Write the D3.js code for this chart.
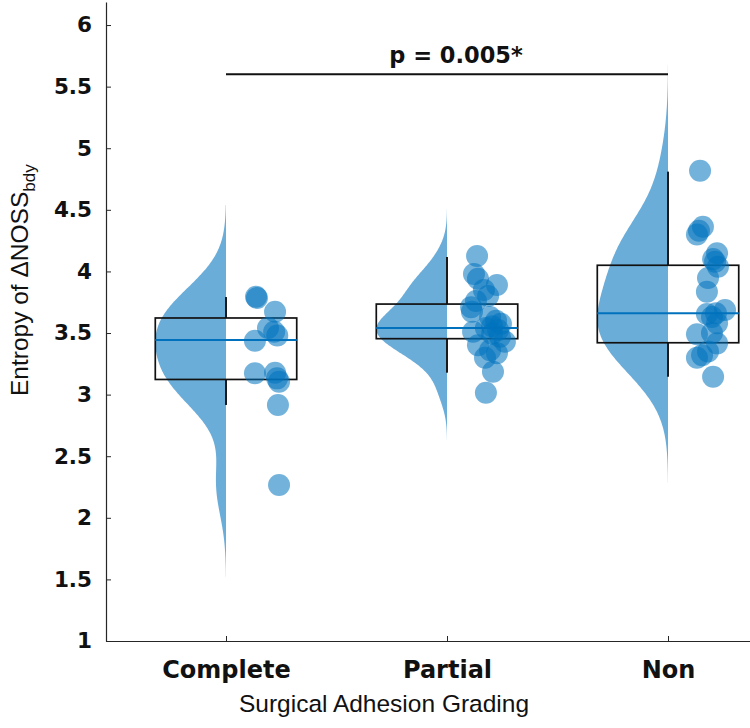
<!DOCTYPE html>
<html><head><meta charset="utf-8">
<script src="https://cdn.jsdelivr.net/npm/d3@7"></script>
<style>body{margin:0;background:#fff} svg{display:block}</style>
</head><body><svg id="chart" width="750" height="728"></svg>
<script>
// ---------------- data ----------------
const categories = ["Complete", "Partial", "Non"];

const completeValues = [3.795, 3.785, 3.673, 3.54, 3.51, 3.48, 3.437, 3.173, 3.178, 3.132, 3.105, 2.916, 2.266];
const completeJitter = [0.136, 0.140, 0.222, 0.190, 0.218, 0.232, 0.131, 0.131, 0.222, 0.231, 0.240, 0.235, 0.240];

const partialValues = [4.125, 3.979, 3.94, 3.89, 3.85, 3.80, 3.76, 3.71, 3.673, 3.63, 3.60, 3.575, 3.555, 3.54, 3.525, 3.51, 3.495, 3.47, 3.43, 3.40, 3.36, 3.335, 3.30, 3.186, 3.015];
const partialJitter = [0.136, 0.122, 0.140, 0.226, 0.167, 0.186, 0.131, 0.109, 0.113, 0.195, 0.222, 0.244, 0.204, 0.176, 0.231, 0.118, 0.204, 0.240, 0.262, 0.140, 0.195, 0.226, 0.172, 0.208, 0.176];

const nonValues = [4.817, 4.363, 4.33, 4.30, 4.147, 4.10, 4.079, 4.038, 3.946, 3.835, 3.655, 3.687, 3.66, 3.63, 3.579, 3.50, 3.49, 3.416, 3.35, 3.32, 3.30, 3.145];
const nonJitter = [0.145, 0.158, 0.140, 0.131, 0.222, 0.204, 0.213, 0.226, 0.181, 0.176, 0.176, 0.258, 0.217, 0.199, 0.222, 0.199, 0.131, 0.222, 0.181, 0.154, 0.131, 0.204];

// box plot statistics
const boxQ1 = [3.123, 3.454, 3.421];
const boxMedian = [3.443, 3.541, 3.660];
const boxQ3 = [3.622, 3.735, 4.050];
const whiskerLow = [2.916, 3.178, 3.145];
const whiskerHigh = [3.792, 4.117, 4.810];

const yTicks = [1, 1.5, 2, 2.5, 3, 3.5, 4, 4.5, 5, 5.5, 6];
const yTickLabels = ["1", "1.5", "2", "2.5", "3", "3.5", "4", "4.5", "5", "5.5", "6"];

const sigFrom = 1, sigTo = 3, sigLevel = 5.6;
const sigLabel = "p = 0.005*";

// ---------------- setup ----------------
const groups = [
  {values: completeValues, jitter: completeJitter},
  {values: partialValues, jitter: partialJitter},
  {values: nonValues, jitter: nonJitter}
];
const BLUE = "#0072BD";
const svg = d3.select("#chart");
const x = d3.scaleLinear().domain([0.457, 3.371]).range([106, 750]);
const y = d3.scaleLinear().domain([1, 6.187]).range([641, 2]);

// KDE (Gaussian, MATLAB ksdensity-like bandwidth)
function kde(vals) {
  const n = vals.length;
  const med = d3.median(vals);
  const mad = d3.median(vals.map(v => Math.abs(v - med)));
  const sig = mad / 0.6745;
  const h = sig * Math.pow(4 / (3 * n), 0.2);
  const lo = d3.min(vals) - 3 * h, hi = d3.max(vals) + 3 * h;
  const pts = d3.range(0, 201).map(i => lo + (hi - lo) * i / 200);
  return pts.map(t => [t, d3.mean(vals, v => Math.exp(-0.5 * ((t - v) / h) ** 2)) / (h * Math.sqrt(2 * Math.PI))]);
}
const violinWidth = 0.32; // category units, each violin scaled to its own peak

// violins
groups.forEach((g, i) => {
  const c = i + 1;
  const d = kde(g.values);
  const m = d3.max(d, p => p[1]);
  const area = d3.area()
    .y(p => y(p[0]))
    .x0(() => x(c))
    .x1(p => x(c - p[1] / m * violinWidth))
    .curve(d3.curveBasis);
  svg.append("path").attr("d", area(d))
    .attr("fill", BLUE).attr("fill-opacity", 0.58).attr("stroke", "none");
});

// boxes
const boxHalf = 0.32;
categories.forEach((cat, i) => {
  const c = i + 1;
  const g = svg.append("g");
  g.append("line").attr("x1", x(c)).attr("x2", x(c))
    .attr("y1", y(boxQ3[i])).attr("y2", y(whiskerHigh[i]))
    .attr("stroke", "#1a1a1a").attr("stroke-width", 2);
  g.append("line").attr("x1", x(c)).attr("x2", x(c))
    .attr("y1", y(boxQ1[i])).attr("y2", y(whiskerLow[i]))
    .attr("stroke", "#1a1a1a").attr("stroke-width", 2);
  g.append("rect").attr("x", x(c - boxHalf)).attr("y", y(boxQ3[i]))
    .attr("width", x(c + boxHalf) - x(c - boxHalf))
    .attr("height", y(boxQ1[i]) - y(boxQ3[i]))
    .attr("fill", "none").attr("stroke", "#111").attr("stroke-width", 1.7);
  g.append("line").attr("x1", x(c - boxHalf)).attr("x2", x(c + boxHalf))
    .attr("y1", y(boxMedian[i])).attr("y2", y(boxMedian[i]))
    .attr("stroke", BLUE).attr("stroke-width", 2);
});

// points
groups.forEach((g, i) => {
  const c = i + 1;
  svg.append("g").selectAll("circle").data(g.values).join("circle")
    .attr("cx", (v, j) => x(c + g.jitter[j]))
    .attr("cy", v => y(v))
    .attr("r", 11)
    .attr("fill", BLUE).attr("fill-opacity", 0.55);
});

// significance bar
svg.append("line").attr("x1", x(sigFrom)).attr("x2", x(sigTo))
  .attr("y1", y(sigLevel)).attr("y2", y(sigLevel))
  .attr("stroke", "#111").attr("stroke-width", 2);
svg.append("text").attr("x", x((sigFrom + sigTo) / 2) + 9).attr("y", y(sigLevel) - 11)
  .attr("text-anchor", "middle")
  .attr("font-family", "DejaVu Sans").attr("font-weight", "bold").attr("font-size", 22.5)
  .attr("fill", "#111").text(sigLabel);

// axes
const yAxis = d3.axisLeft(y).tickValues(yTicks)
  .tickFormat((d, i) => yTickLabels[i]).tickSize(-5).tickSizeOuter(0).tickPadding(14);
const ya = svg.append("g").attr("transform", "translate(106,0)").call(yAxis);
ya.select(".domain").attr("stroke", "#262626").attr("stroke-width", 1.2);
ya.selectAll(".tick line").attr("stroke", "#262626");
ya.selectAll(".tick text").attr("font-family", "DejaVu Sans").attr("font-weight", "bold")
  .attr("font-size", 21.5).attr("fill", "#111");

const xAxis = d3.axisBottom(x).tickValues([1, 2, 3])
  .tickFormat(d => categories[d - 1]).tickSize(-5).tickSizeOuter(0).tickPadding(20);
const xa = svg.append("g").attr("transform", "translate(0,641)").call(xAxis);
xa.select(".domain").attr("stroke", "#262626").attr("stroke-width", 1.2);
xa.selectAll(".tick line").attr("stroke", "#262626");
xa.selectAll(".tick text").attr("font-family", "DejaVu Sans").attr("font-weight", "bold")
  .attr("font-size", 24).attr("fill", "#111");

// axis titles
svg.append("text").attr("x", 384).attr("y", 712).attr("text-anchor", "middle")
  .attr("font-family", "Liberation Sans, Arial, sans-serif").attr("font-size", 24.5)
  .attr("fill", "#111").text("Surgical Adhesion Grading");

const yt = svg.append("text").attr("transform", "translate(28,396) rotate(-90)")
  .attr("font-family", "Liberation Sans, Arial, sans-serif").attr("font-size", 24.5)
  .attr("fill", "#111");
yt.append("tspan").text("Entropy of ΔNOSS");
yt.append("tspan").attr("dy", 7).attr("font-size", 17).text("bdy");
</script></body></html>
